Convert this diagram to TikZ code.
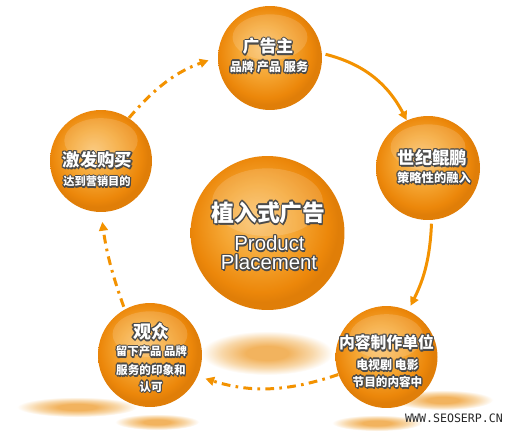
\documentclass[tikz,border=0pt]{standalone}
\usepackage{fontspec}
\setmainfont{Liberation Sans}
\newfontfamily\cjk{Noto Sans CJK SC}
\newfontfamily\lat{Liberation Sans}
\newfontfamily\wmono{DejaVu Sans Mono}
\usetikzlibrary{arrows.meta}
\definecolor{shd}{HTML}{4A4A4A}
\definecolor{arr}{HTML}{F39200}
\definecolor{rimc}{HTML}{EC870A}
\definecolor{midc}{HTML}{F5A633}
\definecolor{inc}{HTML}{F9C26C}
\definecolor{rimd}{HTML}{E07E08}
\definecolor{sha}{HTML}{F2B35E}
\definecolor{shb}{HTML}{F8D7A8}
\pgfdeclareradialshading{orb}{\pgfpoint{-4bp}{5bp}}{color(0bp)=(inc); color(12bp)=(midc); color(22bp)=(rimc); color(25bp)=(rimd); color(50bp)=(rimd)}
\pgfdeclareradialshading{soft}{\pgfpointorigin}{color(0bp)=(sha); color(8bp)=(sha); color(17bp)=(shb); color(25bp)=(white); color(50bp)=(white)}
\newcommand\glowtxt[1]{\leavevmode{\setbox0\hbox{#1}%
 \rlap{\color{shd}\kern.7pt\copy0}%
 \rlap{\color{shd}\kern-.7pt\copy0}%
 \rlap{\color{shd}\raise.7pt\copy0}%
 \rlap{\color{shd}\lower.7pt\copy0}%
 \rlap{\color{shd}\kern.5pt\lower.5pt\copy0}%
 \rlap{\color{shd}\kern-.5pt\lower.5pt\copy0}%
 \rlap{\color{shd}\kern.5pt\raise.5pt\copy0}%
 \rlap{\color{shd}\kern-.5pt\raise.5pt\copy0}%
 \rlap{\color{shd}\kern.4pt\lower1.1pt\copy0}%
 \color{white}\box0}}
\tikzset{
 ball/.style={circle, inner sep=0pt, minimum size=#1, shading=orb,
   path picture={\fill[white, fill opacity=.15] ([yshift={-0.30*#1}]path picture bounding box.north) ellipse [x radius={0.36*#1}, y radius={0.22*#1}];}},
 hd/.style={inner sep=0pt, font=\cjk\bfseries\fontsize{#1}{#1}\selectfont},
 hd/.default=9.6,
 sb/.style={inner sep=0pt, font=\cjk\bfseries\fontsize{#1}{#1}\selectfont},
 sb/.default=6.7,
 en/.style={inner sep=0pt, anchor=base, font=\lat\fontsize{11.6}{11.6}\selectfont},
 solidarr/.style={draw=arr, line width=1.7pt, -{Triangle[length=5pt,width=5pt]}},
 dasharr/.style={draw=arr, line width=1.7pt, dash pattern=on 5pt off 3pt on 1.5pt off 3pt, -{Triangle[length=5pt,width=5pt]}},
}
\begin{document}
\begin{tikzpicture}[x=0.02cm, y=-0.02cm]
\useasboundingbox (0,0) rectangle (516,442);
\fill[white] (0,0) rectangle (516,442);
% soft shadows
\path[shading=soft] (267,353) ellipse [x radius=66, y radius=22];
\path[shading=soft] (77,407) ellipse [x radius=60, y radius=10];
\path[shading=soft] (157,422) ellipse [x radius=42, y radius=8];
\path[shading=soft] (443,400) ellipse [x radius=50, y radius=10];
\path[shading=soft] (377,423) ellipse [x radius=45, y radius=8];
% balls
\node[ball=2.08cm] (gg) at (270,58) {};
\node[ball=2.08cm] (sj) at (428,168) {};
\node[ball=2.04cm] (nr) at (386.5,357) {};
\node[ball=2.08cm] (gz) at (150,355) {};
\node[ball=2.04cm] (jf) at (101,161) {};
\node[ball=3.08cm] (zr) at (267.5,233) {};
% texts
\node[hd] (gga) at (268,47) {\glowtxt{广告主}};
\node[sb=6.9] (ggb) at (269,67) {\glowtxt{品牌 产品 服务}};
\node[hd=9.9] (sja) at (432.5,158) {\glowtxt{世纪鲲鹏}};
\node[sb=7] (sjb) at (434,178) {\glowtxt{策略性的融入}};
\node[hd=9] (nra) at (386.5,343) {\glowtxt{内容制作单位}};
\node[sb=6.8] (nrb) at (387.5,365) {\glowtxt{电视剧 电影}};
\node[sb=6.6] (nrc) at (387.5,382) {\glowtxt{节目的内容中}};
\node[hd=10.2] (gza) at (151,332) {\glowtxt{观众}};
\node[sb=6.5] (gzb) at (151.5,352) {\glowtxt{留下产品 品牌}};
\node[sb=6.6] (gzc) at (151,370) {\glowtxt{服务的印象和}};
\node[sb=6.6] (gzd) at (151,387) {\glowtxt{认可}};
\node[hd=9.9] (jfa) at (97.5,160) {\glowtxt{激发购买}};
\node[sb=6.4] (jfb) at (97,182) {\glowtxt{达到营销目的}};
\node[hd=13] (zra) at (268.5,213) {\glowtxt{植入式广告}};
\node[en] (zrb) at (269.5,250.5) {\glowtxt{Product}};
\node[en] (zrc) at (269,269.5) {\glowtxt{Placement}};
% connectors
\draw[solidarr, shorten <=2pt] (gg.5) to[bend left=24] (sj.114);
\draw[solidarr, shorten <=2pt, shorten >=3pt] (sj.-86) to[bend left=12] (nr.65);
\draw[dasharr, shorten >=4.5pt] (nr.200) to[bend left=18] (gz.-24);
\draw[dasharr, shorten <=1.5pt, shorten >=5.5pt] (gz.119) to[bend left=6] (jf.-90);
\draw[dasharr, shorten >=5.5pt] (jf.57) to[bend left=15] (gg.179);
% watermark
\node[inner sep=0pt, text=black!85, font=\wmono\fontsize{6.6}{6.6}\selectfont] (wm) at (454,418) {WWW.SEOSERP.CN};
\end{tikzpicture}
\end{document}
